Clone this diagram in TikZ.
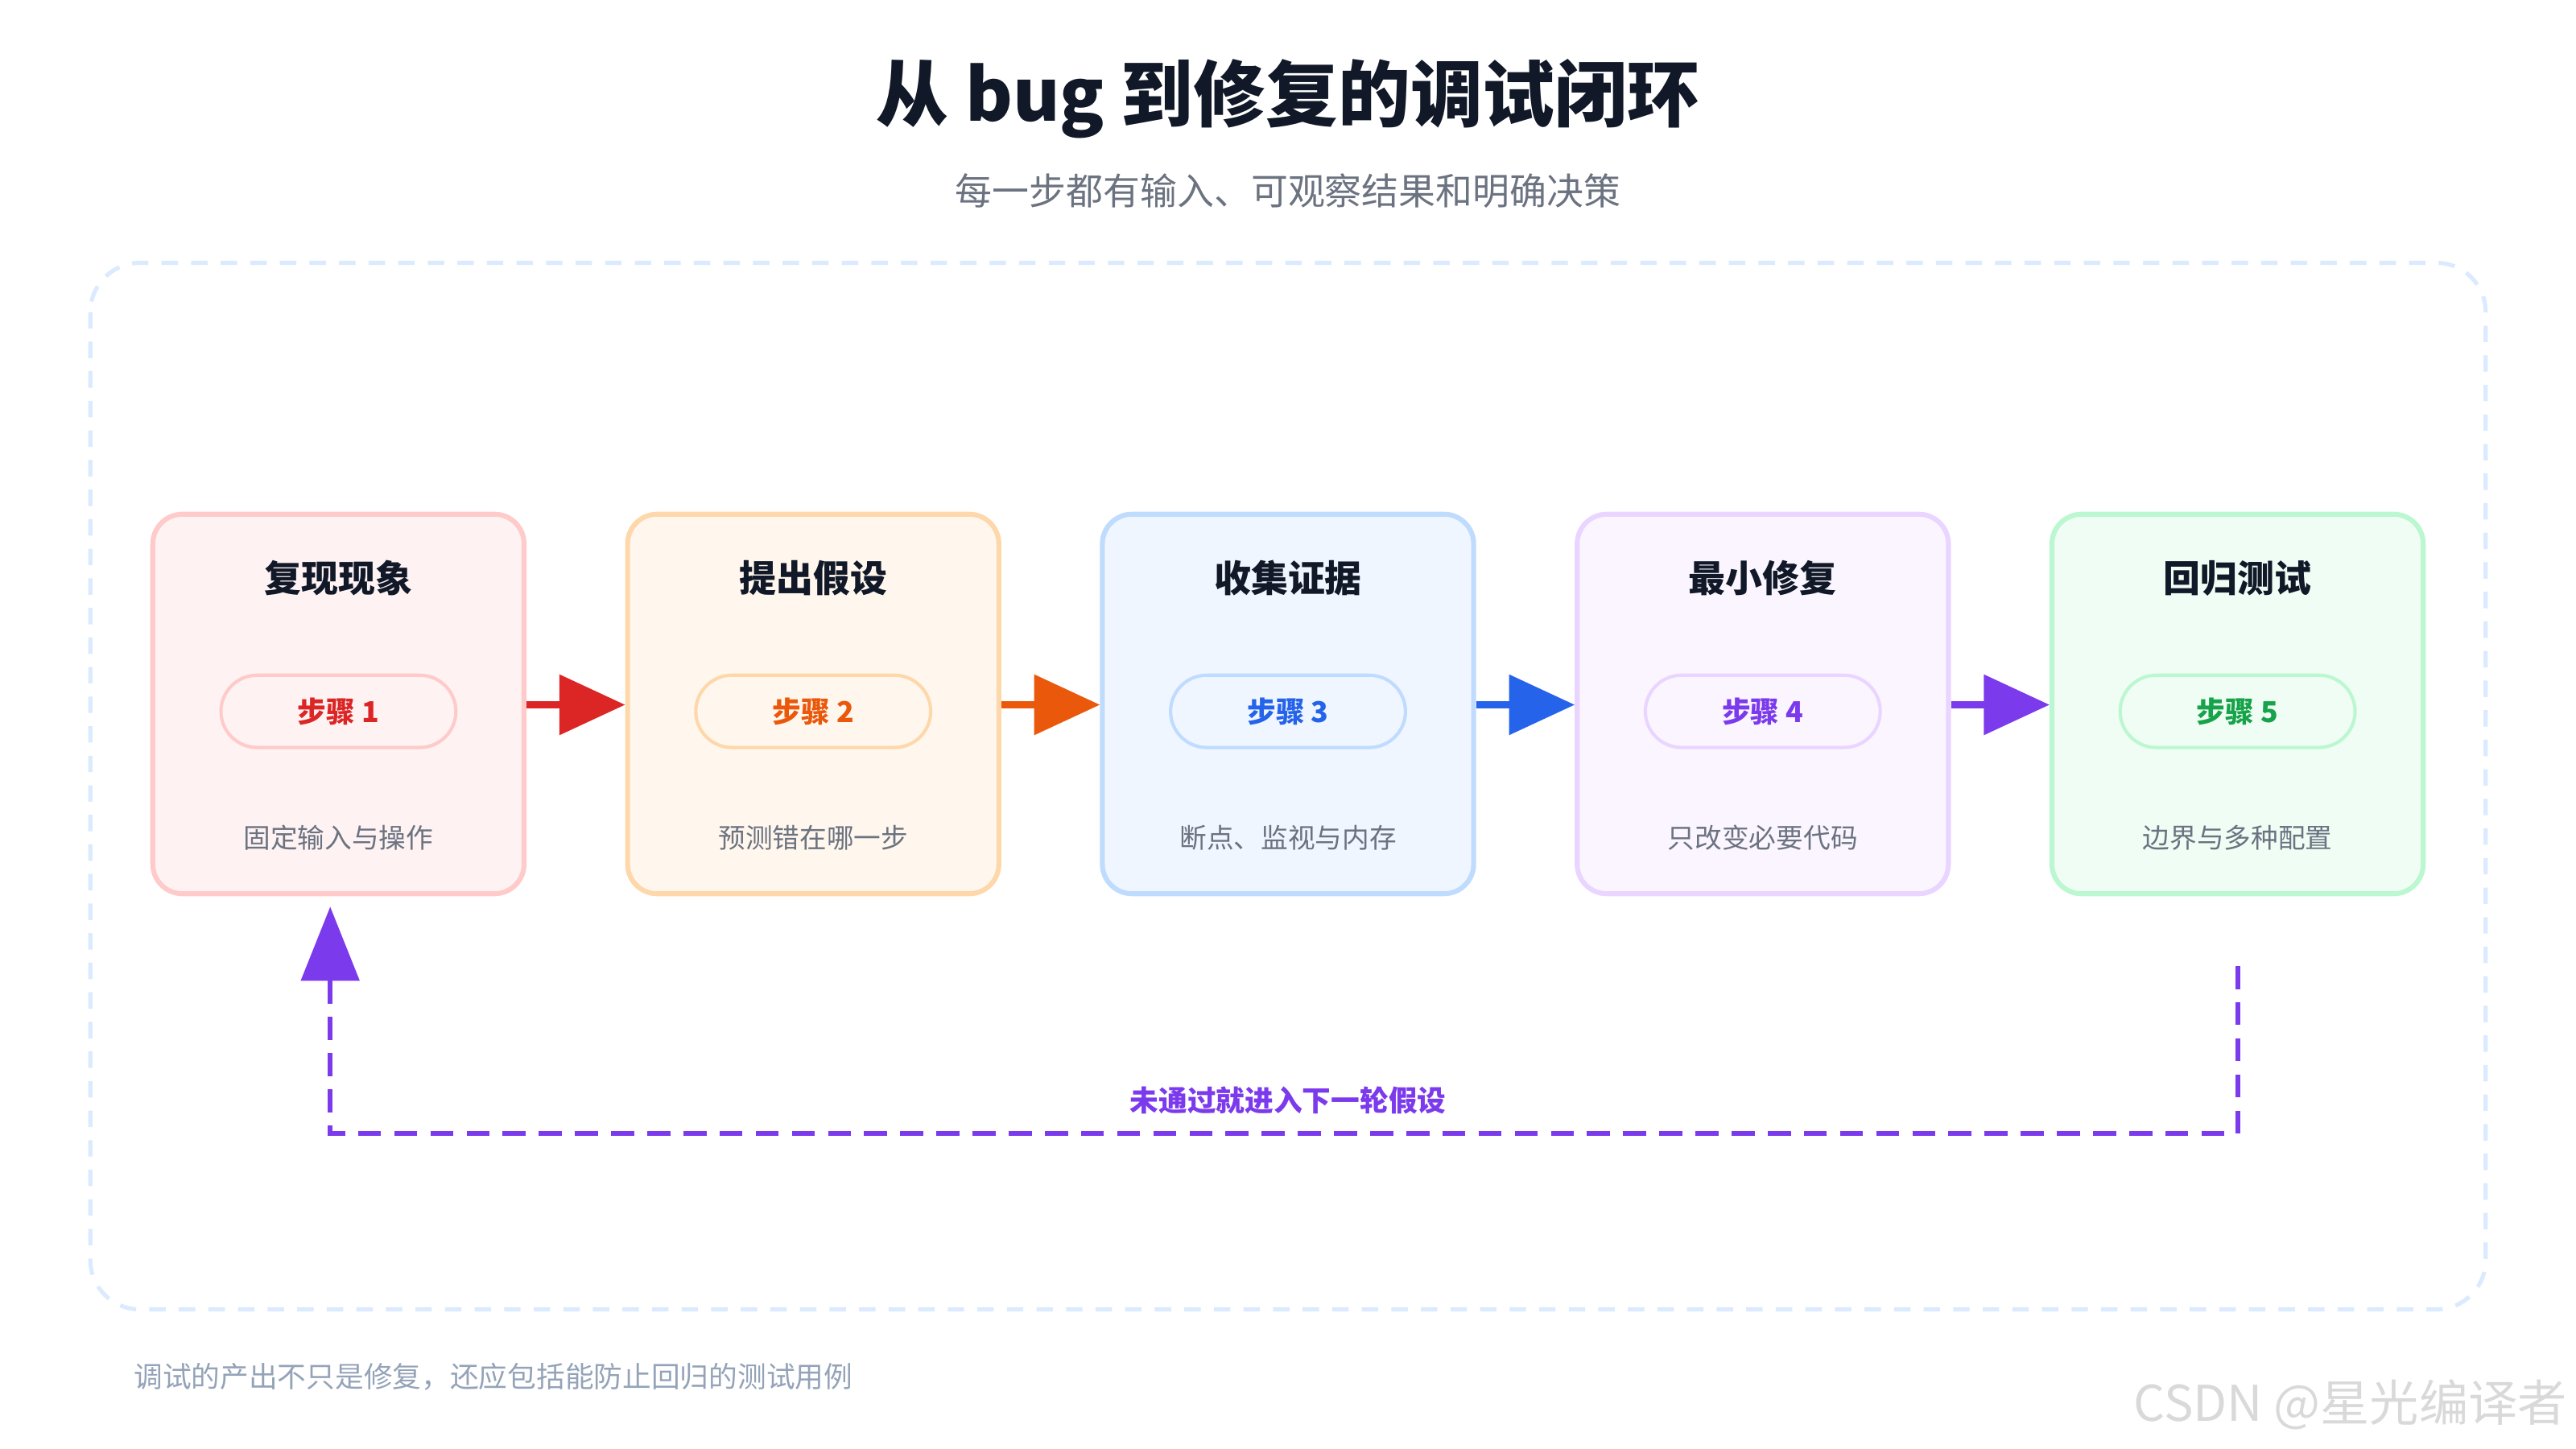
\documentclass[tikz,border=0pt]{standalone}
\usepackage{fontspec}
\setmainfont{Noto Sans CJK SC}
\usetikzlibrary{arrows.meta}
\definecolor{ttl}{HTML}{111827}
\definecolor{sub}{HTML}{6B7280}
\definecolor{foot}{HTML}{94A3B8}
\definecolor{frame}{HTML}{DBEAFE}
\definecolor{fA}{HTML}{FEF2F2}\definecolor{bA}{HTML}{FECACA}\definecolor{tA}{HTML}{DC2626}
\definecolor{fB}{HTML}{FFF7ED}\definecolor{bB}{HTML}{FED7AA}\definecolor{tB}{HTML}{EA580C}
\definecolor{fC}{HTML}{EFF6FF}\definecolor{bC}{HTML}{BFDBFE}\definecolor{tC}{HTML}{2563EB}
\definecolor{fD}{HTML}{FAF5FF}\definecolor{bD}{HTML}{E9D5FF}\definecolor{tD}{HTML}{7C3AED}
\definecolor{fE}{HTML}{F0FDF4}\definecolor{bE}{HTML}{BBF7D0}\definecolor{tE}{HTML}{16A34A}
\begin{document}
\begin{tikzpicture}[x=1pt,y=-1pt,
  box/.style={draw=#1,line width=3pt,rounded corners=18pt,minimum width=226pt,minimum height=231pt,inner sep=0pt},
  pill/.style={draw=#1,line width=2pt,rounded corners=22pt,minimum width=143pt,minimum height=44pt,inner sep=0pt},
  head/.style={font=\fontsize{22.5}{26}\selectfont\bfseries,text=ttl},
  step/.style={font=\fontsize{17.5}{20}\selectfont\bfseries,text=#1},
  desc/.style={font=\fontsize{16.5}{19}\selectfont,text=sub},
  flow/.style={draw=#1,line width=4pt,-{Triangle[length=40pt,width=36pt,fill=#1]}},
  back/.style={draw=tD,line width=3pt,dash pattern=on 14pt off 8pt}]
\useasboundingbox (0,0) rectangle (1568,882);
\node[font=\fontsize{44}{50}\selectfont\bfseries,text=ttl] (title) at (784,60) {从 bug 到修复的调试闭环};
\node[font=\fontsize{22.5}{26}\selectfont,text=sub] (subtitle) at (784,116) {每一步都有输入、可观察结果和明确决策};
\draw[frame,line width=2.5pt,dash pattern=on 10pt off 8pt,rounded corners=30pt] (55,160) rectangle (1513,797);
\foreach \k/\x/\h/\d/\c in {A/206/复现现象/固定输入与操作/1,B/495/提出假设/预测错在哪一步/2,C/784/收集证据/断点、监视与内存/3,D/1073/最小修复/只改变必要代码/4,E/1362/回归测试/边界与多种配置/5}{
  \node[box=b\k,fill=f\k] (box\c) at (\x,428.5) {};
  \node[head] (h\c) at (\x,352) {\h};
  \node[pill=b\k,fill=f\k] (p\c) at (\x,433) {};
  \node[step=t\k] (s\c) at (\x,433) {步骤 \c};
  \node[desc] (d\c) at (\x,510) {\d};
}
\draw[flow=tA] (box1.east |- 0,429) -- (box2.west |- 0,429);
\draw[flow=tB] (box2.east |- 0,429) -- (box3.west |- 0,429);
\draw[flow=tC] (box3.east |- 0,429) -- (box4.west |- 0,429);
\draw[flow=tD] (box4.east |- 0,429) -- (box5.west |- 0,429);
\coordinate (bs) at (1362,588);
\coordinate (bt) at (201,552);
\draw[back] (bs) -- (1362,690) -- (201,690) -- (201,597);
\draw[draw=none,fill=tD] (bt) -- (183,597) -- (219,597) -- cycle;
\node[font=\fontsize{17.5}{20}\selectfont\bfseries,text=tD] (lbl) at (784,670) {未通过就进入下一轮假设};
\node[font=\fontsize{17.5}{20}\selectfont,text=foot,anchor=west] (foot) at (78,838) {调试的产出不只是修复，还应包括能防止回归的测试用例};
\node[font=\fontsize{30}{34}\selectfont,text=black!15,anchor=east] (wm) at (1566,855) {CSDN @星光编译者};
\end{tikzpicture}
\end{document}
